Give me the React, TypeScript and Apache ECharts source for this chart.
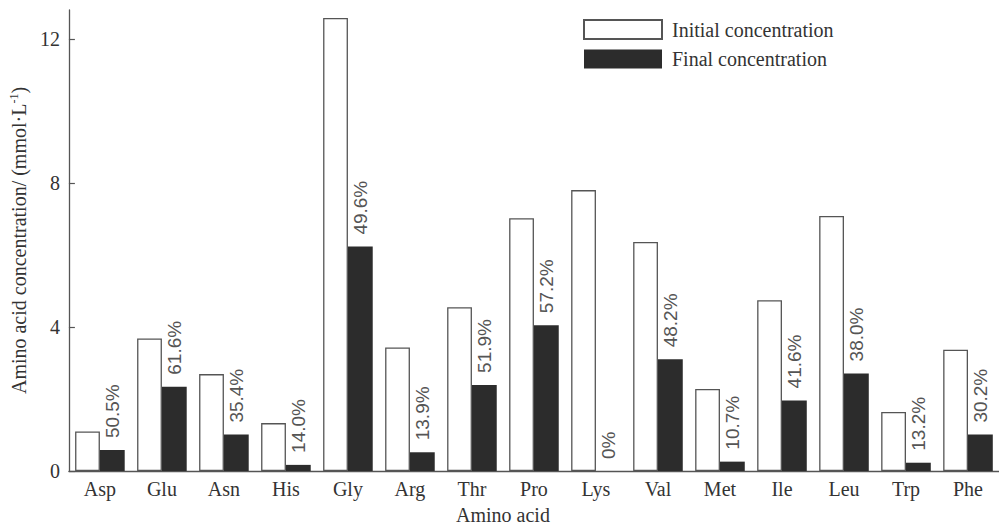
import React, { useEffect, useRef } from "react";
import * as echarts from "echarts";

const categories = ["Asp", "Glu", "Asn", "His", "Gly", "Arg", "Thr", "Pro", "Lys", "Val", "Met", "Ile", "Leu", "Trp", "Phe"];
const initialValues = [1.10, 3.68, 2.69, 1.33, 12.58, 3.43, 4.55, 7.02, 7.80, 6.36, 2.28, 4.74, 7.08, 1.64, 3.37];
const finalValues = [0.58, 2.34, 1.01, 0.17, 6.23, 0.52, 2.39, 4.05, 0, 3.10, 0.26, 1.96, 2.71, 0.23, 1.01];
const percentLabels = ["50.5%", "61.6%", "35.4%", "14.0%", "49.6%", "13.9%", "51.9%", "57.2%", "0%", "48.2%", "10.7%", "41.6%", "38.0%", "13.2%", "30.2%"];
const yTicks = [0, 4, 8, 12];

const SERIF = "'Liberation Serif', 'Times New Roman', serif";
const SANS = "'Liberation Sans', Arial, sans-serif";

export default function App() {
  const ref = useRef<HTMLDivElement>(null);
  useEffect(() => {
    document.body.style.margin = "0";
    if (!ref.current) return;
    const chart = echarts.init(ref.current, undefined, { renderer: "svg" });
    chart.setOption({
      animation: false,
      backgroundColor: "#ffffff",
      grid: { left: 62, right: 0, top: 10, bottom: 55, containLabel: false },
      legend: {
        orient: "vertical",
        left: 583,
        top: 19,
        padding: 0,
        itemWidth: 78,
        itemHeight: 19,
        itemGap: 9,
        icon: "rect",
        textStyle: { fontFamily: SERIF, fontSize: 20, color: "#333", padding: [0, 0, 0, 5] },
        data: ["Initial concentration", "Final concentration"],
      },
      xAxis: {
        type: "category",
        data: categories,
        name: "Amino acid",
        nameLocation: "middle",
        nameGap: 34,
        nameTextStyle: { fontFamily: SERIF, fontSize: 20, color: "#333", padding: [0, 62, 0, 0] },
        axisLine: { lineStyle: { color: "#555", width: 1.3 } },
        axisTick: { inside: true, length: 8, lineStyle: { color: "#555", width: 1.2 } },
        axisLabel: { fontFamily: SERIF, fontSize: 20, color: "#333", margin: 8 },
      },
      yAxis: {
        type: "value",
        min: 0,
        max: 12.8,
        interval: 4,
        name: "{a|Amino acid concentration/ (mmol·L}{s|-1}{a|)}",
        nameLocation: "middle",
        nameGap: 25,
        nameTextStyle: {
          rich: {
            a: { fontFamily: SERIF, fontSize: 20, color: "#333", lineHeight: 22 },
            s: { fontFamily: SERIF, fontSize: 12, color: "#333", verticalAlign: "top", lineHeight: 22 },
          },
        },
        axisLine: { show: true, lineStyle: { color: "#555", width: 1.3 } },
        axisTick: { show: true, inside: true, length: 6, customValues: yTicks, lineStyle: { color: "#555", width: 1.2 } },
        splitLine: { show: false },
        axisLabel: { fontFamily: SERIF, fontSize: 20, color: "#333", margin: 9, customValues: yTicks },
      },
      series: [
        {
          name: "Initial concentration",
          type: "bar",
          data: initialValues,
          barGap: "0%",
          barCategoryGap: "20%",
          itemStyle: { color: "#ffffff", borderColor: "#555", borderWidth: 1.3 },
        },
        {
          name: "Final concentration",
          type: "bar",
          data: finalValues,
          itemStyle: { color: "#2c2c2c", borderColor: "#2c2c2c", borderWidth: 0 },
          label: {
            show: true,
            position: "top",
            rotate: 90,
            align: "left",
            verticalAlign: "middle",
            distance: 4,
            offset: [8, 0],
            fontFamily: SANS,
            fontSize: 19,
            color: "#555",
            formatter: (p: any) => percentLabels[p.dataIndex],
          },
        },
      ],
    });
    return () => chart.dispose();
  }, []);
  return <div ref={ref} style={{ width: 999, height: 530 }} />;
}
